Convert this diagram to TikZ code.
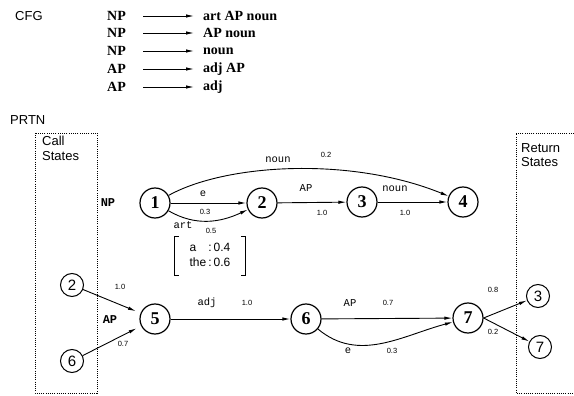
\documentclass[tikz,border=0pt]{standalone}
\usepackage{fontspec}
\setmainfont{Liberation Serif}
\setsansfont{Liberation Sans}
\setmonofont{Liberation Mono}
\usetikzlibrary{arrows.meta}
\begin{document}
\begin{tikzpicture}[x=1pt,y=-1pt,
  st/.style={circle,draw,line width=1.2pt,minimum size=30pt,inner sep=0pt,font=\fontsize{18}{18}\selectfont\bfseries},
  sst/.style={circle,draw,line width=1pt,minimum size=23pt,inner sep=0pt,font=\sffamily\fontsize{15}{15}\selectfont},
  lab/.style={font=\ttfamily\fontsize{10.5}{10.5}\selectfont, inner sep=1pt},
  num/.style={font=\sffamily\fontsize{7.5}{7.5}\selectfont, inner sep=1pt},
  blab/.style={font=\ttfamily\bfseries\fontsize{12}{12}\selectfont, inner sep=1pt},
  arr/.style={-{Latex[length=8pt,width=3.4pt]}, line width=0.9pt},
  gram/.style={font=\bfseries\fontsize{14}{14}\selectfont, anchor=west, inner sep=0pt},
  head/.style={font=\sffamily\fontsize{13}{13}\selectfont, anchor=west, inner sep=0pt},
  side/.style={font=\sffamily\fontsize{13}{14.5}\selectfont, anchor=north west, inner sep=0pt, align=left},
  dotbox/.style={draw, line width=0.8pt, dash pattern=on 1pt off 1.2pt}
]
\useasboundingbox (0,0) rectangle (574,396);

% CFG
\node[head] (cfg) at (15,16) {CFG};
\foreach \i/\y/\l/\r in {1/16/NP/art AP noun, 2/33/NP/AP noun, 3/51/NP/noun, 4/69/AP/adj AP, 5/87/AP/adj}{
  \node[gram] (gl\i) at (107,\y) {\l};
  \node[gram] (gr\i) at (203,\y) {\r};
  \coordinate (ga\i) at (143,\y);
  \coordinate (gb\i) at (194,\y);
  \draw[arr,line width=0.8pt] (ga\i) -- (gb\i);
}

% PRTN
\node[head] (prtn) at (10,120) {PRTN};
\draw[dotbox] (35,133) rectangle (97,393);
\draw[dotbox] (574,133) -- (516,133) -- (516,393) -- (574,393);
\node[side] (call) at (42,136) {Call\\States};
\node[side] (ret) at (521,143) {Return\\States};

% states
\node[st] (n1) at (155,203) {1};
\node[st] (n2) at (262,203) {2};
\node[st] (n3) at (362,202) {3};
\node[st] (n4) at (463,202) {4};
\node[st] (n5) at (155,319) {5};
\node[st] (n6) at (306,319) {6};
\node[st] (n7) at (468,318) {7};
\node[sst] (c2) at (72,285) {2};
\node[sst] (c6) at (72,361) {6};
\node[sst] (r3) at (538,296) {3};
\node[sst] (r7) at (540,347) {7};

\node[blab] (np) at (108,203) {NP};
\node[blab] (ap) at (110,320) {AP};

% NP network
\draw[arr] (n1) .. controls (225,164) and (350,156) .. (n4);
\node[lab] (lnoun1) at (278,160) {noun};
\node[num] (p02) at (326,155) {0.2};
\draw[arr] (n1) -- (n2);
\node[lab] (le1) at (203,194) {e};
\node[num] (p03a) at (205,212) {0.3};
\draw[arr] (n1) to[out=-30,in=-155] (n2);
\node[lab] (lart) at (183,225) {art};
\node[num] (p05) at (211,231) {0.5};
\draw[arr] (n2) -- (n3);
\node[lab] (lap1) at (306,188) {AP};
\node[num] (p10a) at (322,213) {1.0};
\draw[arr] (n3) -- (n4);
\node[lab] (lnoun2) at (395,189) {noun};
\node[num] (p10b) at (405,213) {1.0};

% bracket
\node[font=\sffamily\fontsize{12}{15}\selectfont, minimum width=70pt, minimum height=38pt, inner sep=0pt] (br) at (210,256)
  {\begin{tabular}{@{}l@{\,:\,}l@{}}a & 0.4\\the & 0.6\end{tabular}};
\draw[line width=1pt] ([xshift=4pt]br.north west) -| (br.south west) -- ++(4pt,0);
\draw[line width=1pt] ([xshift=-4pt]br.north east) -| (br.south east) -- ++(-4pt,0);

% AP network
\draw[arr,shorten >=5pt] (c2) -- (n5);
\node[num] (p10c) at (120,287) {1.0};
\draw[arr,shorten >=5pt] (c6) -- (n5);
\node[num] (p07a) at (123,344) {0.7};
\draw[arr] (n5) -- (n6);
\node[lab] (ladj) at (207,303) {adj};
\node[num] (p10d) at (247,303) {1.0};
\draw[arr] (n6) -- (n7);
\node[lab] (lap2) at (350,303) {AP};
\node[num] (p07b) at (388,303) {0.7};
\draw[arr] (n6) to[out=-40,in=-165] (n7);
\node[lab] (le2) at (348,351) {e};
\node[num] (p03b) at (392,351) {0.3};
\draw[arr] (n7.east) -- (r3);
\node[num] (p08) at (493,290) {0.8};
\draw[arr] (n7.east) -- (r7);
\node[num] (p02b) at (493,332) {0.2};
\end{tikzpicture}
\end{document}
